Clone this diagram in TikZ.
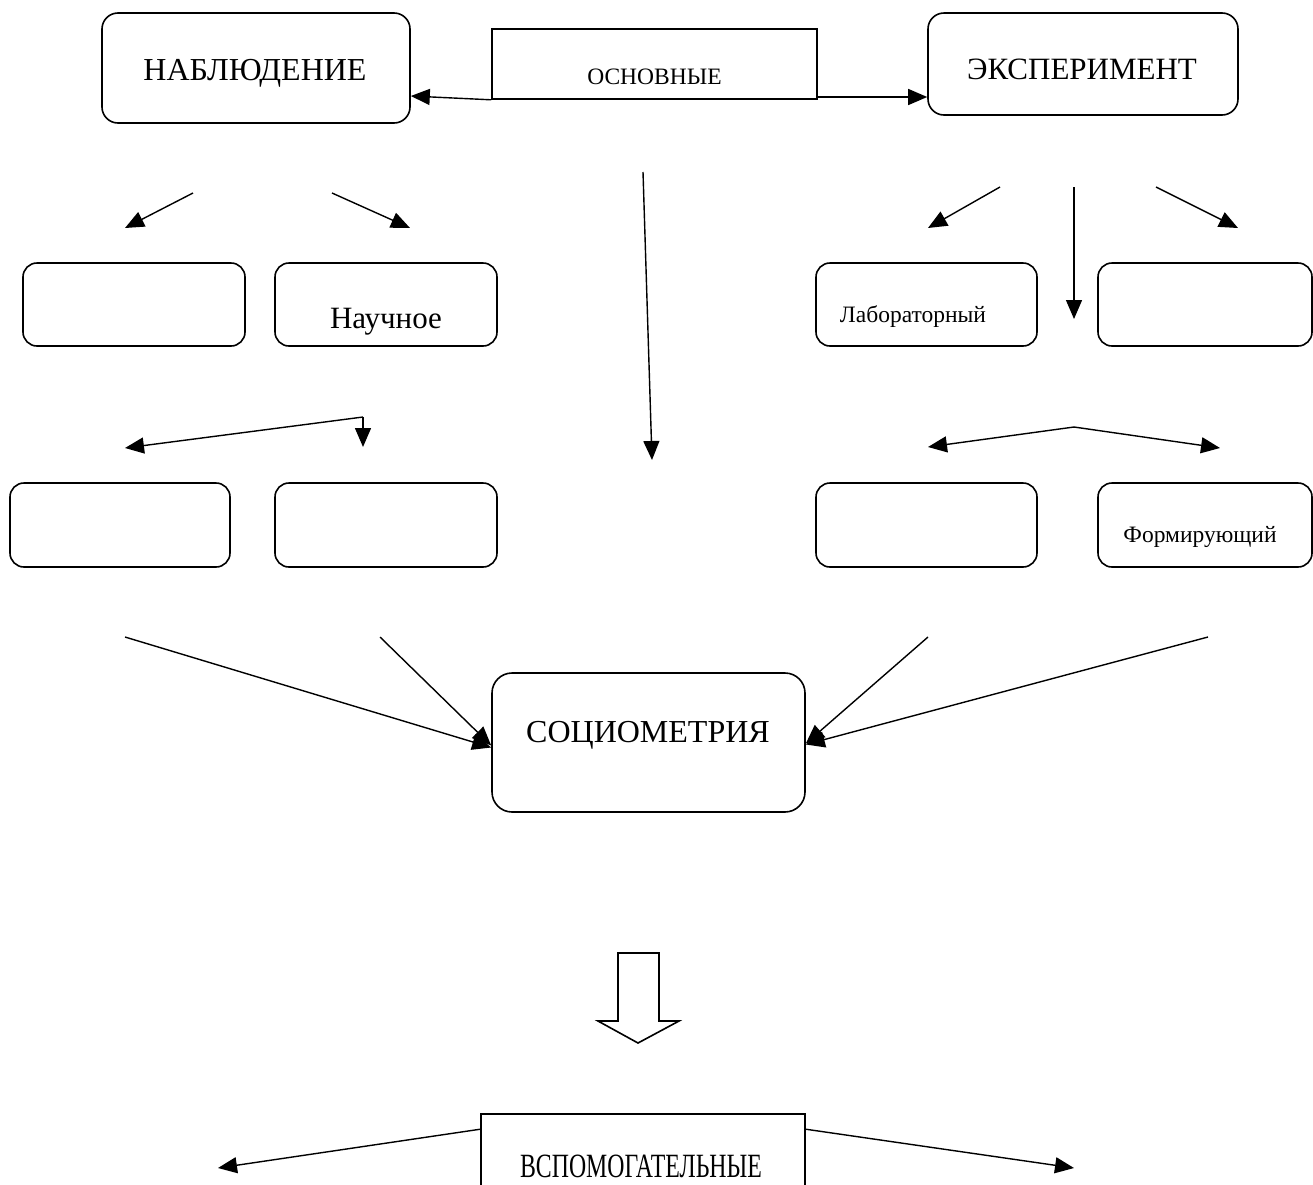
\documentclass[tikz,border=0pt]{standalone}
\usepackage{fontspec}
\setmainfont{Liberation Serif}
\newfontfamily\condserif[FakeStretch=0.7]{Liberation Serif}
\usetikzlibrary{arrows.meta}
\begin{document}
\begin{tikzpicture}[x=1pt,y=-1pt,
  rbox/.style={draw,line width=1.6pt,rounded corners=16pt,inner sep=0pt},
  sbox/.style={draw,line width=1.6pt,inner sep=0pt},
  conn/.style={line width=1.4pt,-{Triangle[length=19pt,width=16pt]}},
  lbl/.style={inner sep=0pt,anchor=base},
  big/.style={font=\fontsize{31}{36}\selectfont},
  small/.style={font=\fontsize{23.5}{27}\selectfont}]
\clip (0,0) rectangle (1313,1184);
\fill[white] (0,0) rectangle (1313,1184);

% boxes
\node[rbox,minimum width=308pt,minimum height=110pt] (nab) at (256,68) {};
\node[sbox,minimum width=325pt,minimum height=70pt] (osn) at (654.5,64) {};
\node[rbox,minimum width=310pt,minimum height=102pt] (exp) at (1083,64) {};
\node[rbox,rounded corners=14pt,minimum width=222pt,minimum height=83pt] (b1) at (134,304.5) {};
\node[rbox,rounded corners=14pt,minimum width=222pt,minimum height=83pt] (b2) at (386,304.5) {};
\node[rbox,rounded corners=14pt,minimum width=220pt,minimum height=84pt] (b3) at (120,525) {};
\node[rbox,rounded corners=14pt,minimum width=222pt,minimum height=84pt] (b4) at (386,525) {};
\node[rbox,rounded corners=14pt,minimum width=221pt,minimum height=83pt] (b5) at (926.5,304.5) {};
\node[rbox,rounded corners=14pt,minimum width=214pt,minimum height=83pt] (b6) at (1205,304.5) {};
\node[rbox,rounded corners=14pt,minimum width=221pt,minimum height=84pt] (b7) at (926.5,525) {};
\node[rbox,rounded corners=14pt,minimum width=214pt,minimum height=84pt] (b8) at (1205,525) {};
\node[rbox,rounded corners=20pt,minimum width=313pt,minimum height=139pt] (soc) at (648.5,742.5) {};
\node[sbox,minimum width=324pt,minimum height=100pt] (vsp) at (643,1164) {};

% texts
\node[lbl,font=\fontsize{32}{36}\selectfont] (tnab) at (255,80) {НАБЛЮДЕНИЕ};
\node[lbl,font=\fontsize{23.5}{28}\selectfont] (tosn) at (654.5,84) {ОСНОВНЫЕ};
\node[lbl,big] (texp) at (1082,79) {ЭКСПЕРИМЕНТ};
\node[lbl,big] (tnauch) at (386,328) {Научное};
\node[lbl,small] (tlab) at (913,322) {Лабораторный};
\node[lbl,small] (tform) at (1200,542) {Формирующий};
\node[lbl,font=\fontsize{32}{36}\selectfont] (tsoc) at (648,742) {СОЦИОМЕТРИЯ};
\node[lbl,font=\fontsize{34}{38}\condserif] (tvsp) at (641,1177) {ВСПОМОГАТЕЛЬНЫЕ};

% free ends
\coordinate (c1) at (643,172);
\coordinate (c1e) at (652,460);
\coordinate (l1s) at (193,193);
\coordinate (l1e) at (125,228);
\coordinate (l2s) at (332,193);
\coordinate (l2e) at (410,228);
\coordinate (r1s) at (1000,187);
\coordinate (r1e) at (928,228);
\coordinate (r2s) at (1074,187);
\coordinate (r2e) at (1074,319);
\coordinate (r3s) at (1156,187);
\coordinate (r3e) at (1238,228);
\coordinate (lk) at (363,417);
\coordinate (lke1) at (125,448);
\coordinate (lke2) at (363,447);
\coordinate (rk) at (1074,427);
\coordinate (rke1) at (928,447);
\coordinate (rke2) at (1220,448);
\coordinate (s1) at (125,637);
\coordinate (s2) at (380,637);
\coordinate (s3) at (928,637);
\coordinate (s4) at (1208,637);
\coordinate (v1) at (218,1168);
\coordinate (v2) at (1074,1168);

% connectors
\draw[conn] (osn.south west) -- ([yshift=-28pt]nab.east);
\draw[conn] ([yshift=-33pt]osn.east) -- ([yshift=-33pt]exp.west);
\draw[conn] (c1) -- (c1e);
\draw[conn] (l1s) -- (l1e);
\draw[conn] (l2s) -- (l2e);
\draw[conn] (r1s) -- (r1e);
\draw[conn] (r2s) -- (r2e);
\draw[conn] (r3s) -- (r3e);
\draw[conn] (lk) -- (lke1);
\draw[conn] (lk) -- (lke2);
\draw[conn] (rk) -- (rke1);
\draw[conn] (rk) -- (rke2);
\draw[conn] (s1) -- ([yshift=-5pt]soc.west);
\draw[conn] (s2) -- ([yshift=-3pt]soc.west);
\draw[conn] (s3) -- ([yshift=-1pt]soc.east);
\draw[conn] (s4) -- ([yshift=-2pt]soc.east);
\draw[conn] ([yshift=-16pt]vsp.north west) -- (v1);
\draw[conn] ([yshift=-16pt]vsp.north east) -- (v2);

% block arrow
\draw[line width=1.6pt,fill=white] (618,953) -- (659,953) -- (659,1021) -- (679,1021)
  -- (638,1043) -- (598,1021) -- (618,1021) -- cycle;
\end{tikzpicture}
\end{document}
